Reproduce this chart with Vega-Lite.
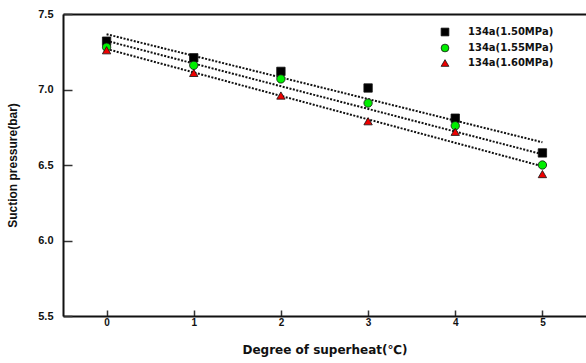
{
  "$schema": "https://vega.github.io/schema/vega-lite/v6.json",
  "width": 523,
  "height": 302,
  "autosize": {"type": "none"},
  "padding": {"left": 63, "top": 14, "right": 0, "bottom": 47},
  "background": "white",
  "config": {
    "view": {"stroke": null},
    "font": "Liberation Sans",
    "axis": {
      "domainColor": "#111",
      "domainWidth": 2,
      "tickColor": "#333",
      "tickWidth": 1.5,
      "grid": false,
      "labelFont": "Liberation Sans",
      "labelFontWeight": "bold",
      "labelColor": "#111",
      "titleFont": "Liberation Sans",
      "titleFontWeight": "bold",
      "titleColor": "#111"
    }
  },
  "data": {
    "values": [
      {"x": 0, "y": 7.32, "series": "134a(1.50MPa)"},
      {"x": 1, "y": 7.21, "series": "134a(1.50MPa)"},
      {"x": 2, "y": 7.12, "series": "134a(1.50MPa)"},
      {"x": 3, "y": 7.01, "series": "134a(1.50MPa)"},
      {"x": 4, "y": 6.81, "series": "134a(1.50MPa)"},
      {"x": 5, "y": 6.58, "series": "134a(1.50MPa)"},
      {"x": 0, "y": 7.28, "series": "134a(1.55MPa)"},
      {"x": 1, "y": 7.16, "series": "134a(1.55MPa)"},
      {"x": 2, "y": 7.07, "series": "134a(1.55MPa)"},
      {"x": 3, "y": 6.91, "series": "134a(1.55MPa)"},
      {"x": 4, "y": 6.76, "series": "134a(1.55MPa)"},
      {"x": 5, "y": 6.50, "series": "134a(1.55MPa)"},
      {"x": 0, "y": 7.26, "series": "134a(1.60MPa)"},
      {"x": 1, "y": 7.11, "series": "134a(1.60MPa)"},
      {"x": 2, "y": 6.96, "series": "134a(1.60MPa)"},
      {"x": 3, "y": 6.79, "series": "134a(1.60MPa)"},
      {"x": 4, "y": 6.72, "series": "134a(1.60MPa)"},
      {"x": 5, "y": 6.44, "series": "134a(1.60MPa)"}
    ]
  },
  "layer": [
    {
      "transform": [{"regression": "y", "on": "x", "groupby": ["series"], "extent": [0, 5]}],
      "mark": {"type": "line", "color": "#111", "strokeDash": [2, 1.5], "strokeWidth": 2},
      "encoding": {
        "x": {
          "field": "x", "type": "quantitative",
          "scale": {"domain": [-0.5, 5.5], "nice": false, "zero": false},
          "axis": {
            "orient": "bottom", "values": [0, 1, 2, 3, 4, 5], "format": "d",
            "tickSize": -6, "labelPadding": 7, "labelFontSize": 10,
            "title": "Degree of superheat(℃)", "titleFont": "DejaVu Sans", "titleFontSize": 12, "titlePadding": 17
          }
        },
        "y": {
          "field": "y", "type": "quantitative",
          "scale": {"domain": [5.5, 7.5], "nice": false, "zero": false},
          "axis": {
            "orient": "left", "values": [5.5, 6.0, 6.5, 7.0, 7.5], "format": ".1f",
            "tickSize": -9, "labelPadding": 19, "labelFontSize": 11,
            "title": "Suction pressure(bar)", "titleFontSize": 12, "titlePadding": 18
          }
        },
        "detail": {"field": "series"}
      }
    },
    {
      "mark": {"type": "point", "filled": true, "stroke": "#111", "strokeWidth": 0.8, "size": 70, "opacity": 1},
      "encoding": {
        "x": {
          "field": "x", "type": "quantitative",
          "scale": {"domain": [-0.5, 5.5], "nice": false, "zero": false},
          "axis": {"orient": "top", "labels": false, "ticks": false, "title": null}
        },
        "y": {"field": "y", "type": "quantitative", "scale": {"domain": [5.5, 7.5], "nice": false, "zero": false}},
        "shape": {
          "field": "series", "type": "nominal",
          "scale": {"domain": ["134a(1.50MPa)", "134a(1.55MPa)", "134a(1.60MPa)"], "range": ["square", "circle", "triangle-up"]},
          "legend": {
            "orient": "none", "legendX": 377, "legendY": 13, "title": null,
            "labelFont": "DejaVu Sans", "labelFontWeight": "bold", "labelFontSize": 10, "labelColor": "#111",
            "labelOffset": 18, "symbolSize": 60, "rowPadding": 4, "symbolStrokeColor": "#111", "symbolStrokeWidth": 0.8
          }
        },
        "color": {
          "field": "series", "type": "nominal",
          "scale": {"domain": ["134a(1.50MPa)", "134a(1.55MPa)", "134a(1.60MPa)"], "range": ["#000000", "#00ee00", "#ee0000"]},
          "legend": {
            "orient": "none", "legendX": 377, "legendY": 13, "title": null,
            "labelFont": "DejaVu Sans", "labelFontWeight": "bold", "labelFontSize": 10, "labelColor": "#111",
            "labelOffset": 18, "symbolSize": 60, "rowPadding": 4, "symbolStrokeColor": "#111", "symbolStrokeWidth": 0.8
          }
        }
      }
    }
  ],
  "resolve": {"axis": {"x": "independent"}}
}
